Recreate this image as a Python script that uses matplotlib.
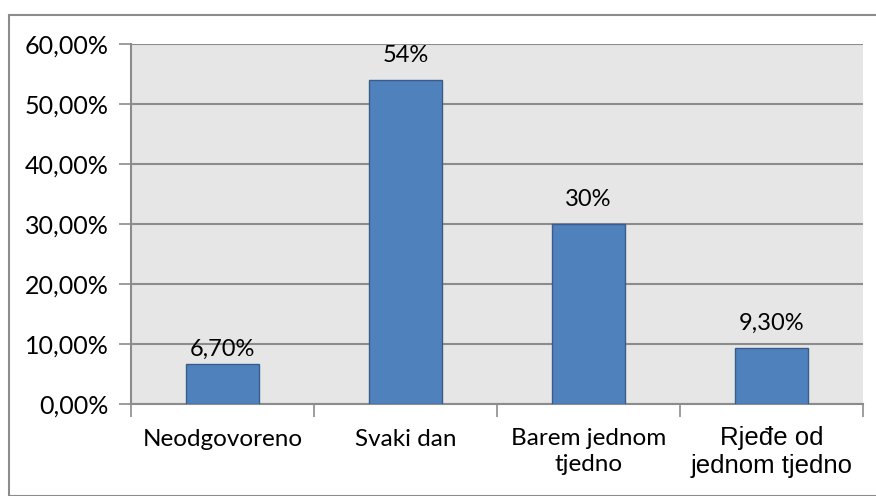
import matplotlib
matplotlib.use("Agg")
import matplotlib.pyplot as plt
from matplotlib.patches import Rectangle

categories = ["Neodgovoreno", "Svaki dan", "Barem jednom\ntjedno", "Rjeđe od\njednom tjedno"]
values = [6.7, 54.0, 30.0, 9.3]
value_labels = ["6,70%", "54%", "30%", "9,30%"]
yticks = [0, 10, 20, 30, 40, 50, 60]
ytick_labels = ["0,00%", "10,00%", "20,00%", "30,00%", "40,00%", "50,00%", "60,00%"]

W, H = 876, 496
fig = plt.figure(figsize=(W / 100, H / 100), dpi=100)
fig.patch.set_facecolor("white")

# outer chart border
fig.patches.append(Rectangle((9 / W, 0), 1.2, (H - 15) / H, transform=fig.transFigure,
                             fill=False, edgecolor="#8C8C8C", linewidth=1.5, zorder=0))

ax = fig.add_axes([131 / W, (H - 404) / H, 732 / W, 360 / H])
ax.set_facecolor("#E6E6E6")

x = list(range(len(categories)))
ax.bar(x, values, width=0.4, color="#4F81BD", edgecolor="#385D8A", linewidth=1.0, zorder=3)

ax.set_xlim(-0.5, len(categories) - 0.5)
ax.set_ylim(0, 60)
ax.set_yticks(yticks)
ax.set_yticklabels(ytick_labels, family="Lato", fontsize=18)
ax.yaxis.grid(True, color="#8C8C8C", linewidth=1.5, zorder=1)
ax.set_axisbelow(True)

ax.set_xticks([i - 0.5 for i in range(len(categories) + 1)])
ax.set_xticklabels([])
ax.tick_params(axis="x", length=9, width=1.2, color="#8C8C8C", direction="out")
ax.tick_params(axis="y", length=9, width=1.2, color="#8C8C8C", direction="out", pad=7)

for s in ["top", "right"]:
    ax.spines[s].set_visible(False)
for s in ["left", "bottom"]:
    ax.spines[s].set_color("#8C8C8C")
    ax.spines[s].set_linewidth(1.5)

# category labels
fonts = ["Lato", "Lato", "Lato", "Liberation Sans"]
sizes = [17.5, 17.5, 17.5, 18.5]
tops = [-18, -18, -17, -16]
spacing = [1.3, 1.3, 1.33, 1.22]
for i, (lab, fam, fs, t, ls) in enumerate(zip(categories, fonts, sizes, tops, spacing)):
    ax.annotate(lab, xy=(i, 0), xycoords=("data", "axes fraction"), xytext=(0, t),
                textcoords="offset points", ha="center", va="top", family=fam,
                fontsize=fs, linespacing=ls)

# value labels
offsets = [6, 13, 13, 13]
for i, (v, lab, off) in enumerate(zip(values, value_labels, offsets)):
    ax.annotate(lab, xy=(i, v), xytext=(0, off), textcoords="offset points",
                ha="center", va="baseline", family="Lato", fontsize=17)

fig.savefig("out.png", dpi=100)
